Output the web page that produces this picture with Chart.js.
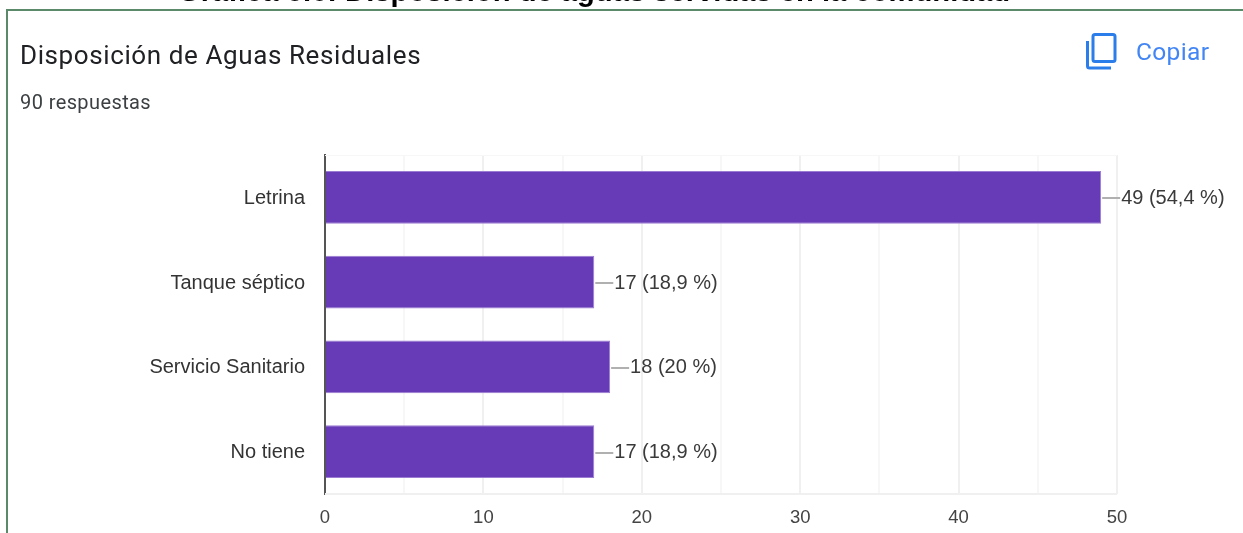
<!DOCTYPE html>
<html lang="es">
<head>
<meta charset="utf-8">
<style>
html,body{margin:0;padding:0;background:#fff;width:1243px;height:533px;overflow:hidden;position:relative;font-family:Roboto,sans-serif}
#c{position:absolute;left:0;top:0}
.t{position:absolute;white-space:nowrap}
#frameT{position:absolute;left:6px;top:9px;width:1237px;height:2px;background:#5b8a6b}
#frameL{position:absolute;left:6px;top:9px;width:2px;height:524px;background:#5b8a6b}
</style>
</head>
<body>
<canvas id="c" width="1243" height="533"></canvas>
<div id="frameT"></div><div id="frameL"></div>
<div class="t" style="left:178px;top:-25px;font:bold 29.2px 'Liberation Sans',Arial,sans-serif;color:#000">Gráfica 5.6: Disposición de aguas servidas en la comunidad</div>
<div class="t" style="left:20px;top:40px;font:400 26px Roboto,sans-serif;color:#202124;letter-spacing:.6px">Disposición de Aguas Residuales</div>
<div class="t" style="left:20px;top:90px;font:400 20px Roboto,sans-serif;color:#3c4043;letter-spacing:.4px">90 respuestas</div>
<svg class="t" style="left:1084px;top:31px" width="36" height="40" viewBox="0 0 36 40" fill="none" stroke="#2b7de9" stroke-width="3">
<rect x="9" y="3.5" width="22" height="27" rx="2"/><path d="M3.5 10V35a2 2 0 0 0 2 2H27"/></svg>
<div class="t" style="left:1136px;top:37px;font:400 24.5px Roboto,sans-serif;color:#4285f4;letter-spacing:.35px">Copiar</div>
<script src="https://cdn.jsdelivr.net/npm/chart.js@4/dist/chart.umd.min.js"></script>
<script>
const categories = ["Letrina", "Tanque séptico", "Servicio Sanitario", "No tiene"];
const values = [49, 17, 18, 17];
const valueLabels = ["49 (54,4 %)", "17 (18,9 %)", "18 (20 %)", "17 (18,9 %)"];
const xTicks = [0, 10, 20, 30, 40, 50];

const family = "'Liberation Sans', Arial, sans-serif";
const leaders = {
  id: "leaders",
  beforeDatasetsDraw(chart) {
    const ctx = chart.ctx, a = chart.chartArea;
    ctx.save();
    ctx.strokeStyle = "#f0f0f0";
    ctx.lineWidth = 2;
    ctx.beginPath();
    ctx.moveTo(a.left, a.bottom);
    ctx.lineTo(a.right, a.bottom);
    ctx.stroke();
    ctx.lineWidth = 1;
    ctx.strokeStyle = "#f7f7f7";
    ctx.beginPath();
    ctx.moveTo(a.left, a.top + 0.5);
    ctx.lineTo(a.right, a.top + 0.5);
    ctx.stroke();
    ctx.restore();
  },
  afterDatasetsDraw(chart) {
    const ctx = chart.ctx, bars = chart.getDatasetMeta(0).data;
    ctx.save();
    ctx.font = "20px " + family;
    ctx.textBaseline = "middle";
    bars.forEach((b, i) => {
      ctx.strokeStyle = "#b0b0b0";
      ctx.lineWidth = 2;
      ctx.beginPath();
      ctx.moveTo(b.x + 1, Math.round(b.y) + 1);
      ctx.lineTo(b.x + 19, Math.round(b.y) + 1);
      ctx.stroke();
      ctx.fillStyle = "#3a3a3a";
      ctx.fillText(valueLabels[i], b.x + 20, b.y + 1);
    });
    ctx.restore();
  }
};

new Chart(document.getElementById("c"), {
  type: "bar",
  data: {
    labels: categories,
    datasets: [{
      data: values,
      backgroundColor: "#673ab7",
      borderColor: "#9a7cd2",
      borderWidth: 1,
      categoryPercentage: 0.625,
      barPercentage: 1
    }]
  },
  plugins: [leaders],
  options: {
    indexAxis: "y",
    responsive: false,
    animation: false,
    layout: { padding: { top: 155, right: 126, left: 0, bottom: 0 } },
    plugins: { legend: { display: false }, tooltip: { enabled: false }, title: { display: false } },
    scales: {
      x: {
        min: 0, max: 50,
        afterFit(s) { s.height = 39; },
        afterBuildTicks(s) { s.ticks = Array.from({ length: 11 }, (_, i) => ({ value: i * 5 })); },
        grid: {
          drawTicks: false,
          color: c => (c.tick && c.tick.value % 10 === 0) ? "#f0f0f0" : "#f7f7f7",
          lineWidth: 2
        },
        border: { display: false },
        ticks: {
          autoSkip: false, maxRotation: 0, padding: 13,
          color: "#444444",
          font: { family: family, size: 18.5 },
          callback: v => xTicks.includes(v) ? String(v) : ""
        }
      },
      y: {
        afterFit(s) { s.width = 325; },
        grid: { display: false, drawTicks: false },
        border: { display: true, color: "#555555", width: 2 },
        ticks: {
          padding: 20,
          labelOffset: 1,
          color: "#333333",
          font: { family: family, size: 20 }
        }
      }
    }
  }
});
</script>
</body>
</html>
